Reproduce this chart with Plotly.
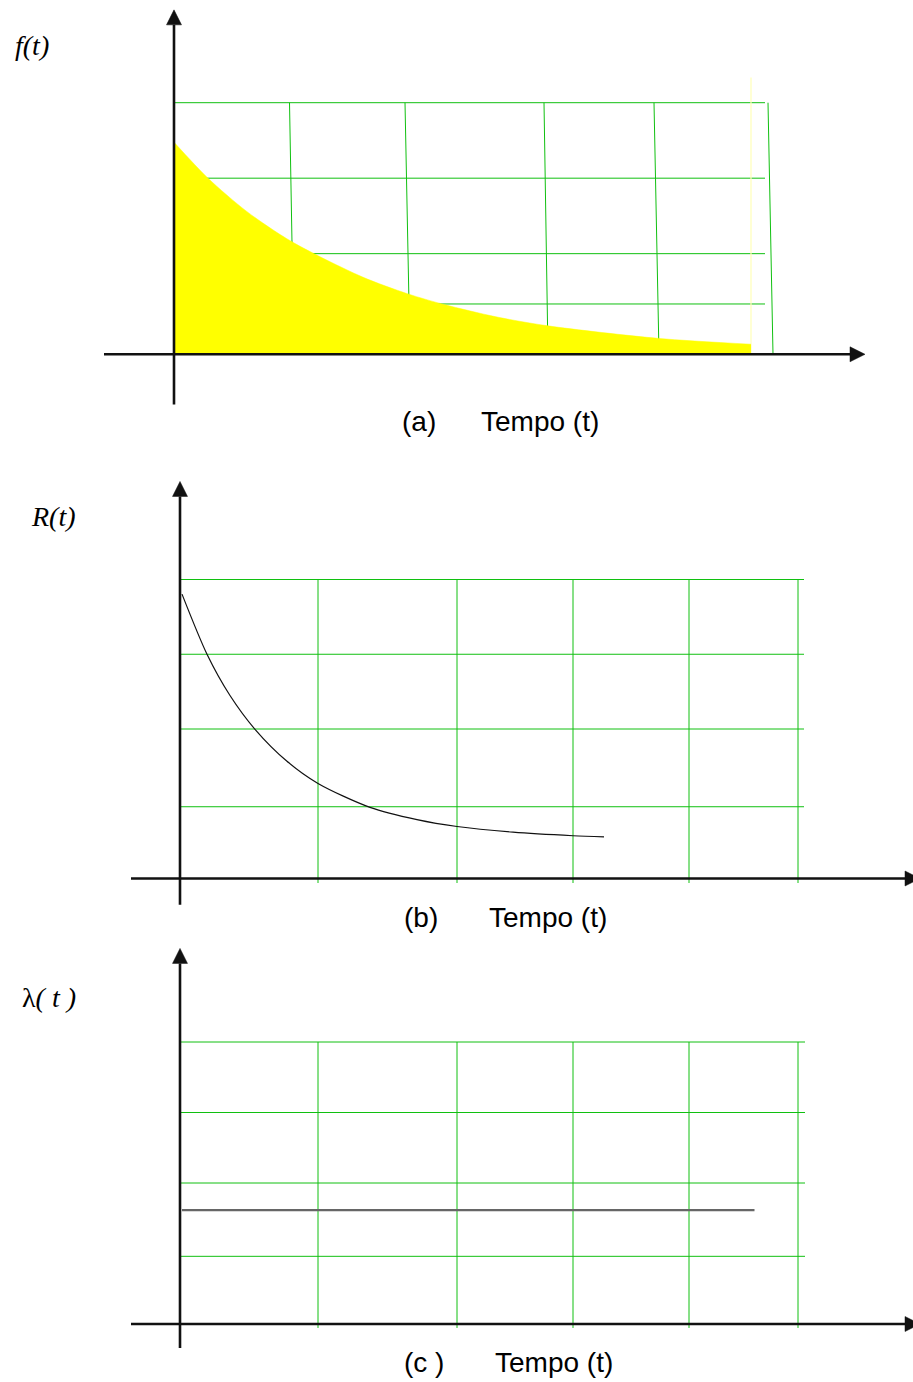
import plotly.graph_objects as go

W, H = 913, 1382

# ---------------- data ----------------
# (a) density f(t)
fa_t = [0.0, 0.34, 0.73, 1.18, 1.88, 2.34, 2.70, 3.22, 3.74, 4.85, 5.77]
fa_v = [0.843, 0.70, 0.567, 0.447, 0.308, 0.240, 0.198, 0.149, 0.113, 0.063, 0.04]
fa_hgrid = [0.2, 0.4, 0.7, 1.0]
fa_vgrid_top = [1.155, 2.31, 3.70, 4.80, 5.94]
fa_vgrid_bot = [1.20, 2.36, 3.74, 4.85, 5.99]

# (b) reliability R(t)
rb_t = [0.02, 0.27, 0.50, 0.75, 1.07, 1.38, 1.90, 2.37, 2.77, 3.33, 3.93, 4.24]
rb_v = [0.951, 0.75, 0.612, 0.499, 0.392, 0.318, 0.238, 0.197, 0.174, 0.155, 0.143, 0.139]

# (c) hazard rate lambda(t)
lc_t = [0.02, 5.745]
lc_v = [0.404, 0.404]

bc_hgrid = [1.0, 0.75, 0.5, 0.24]
bc_vgrid = [1.38, 2.77, 3.93, 5.09, 6.18]

# ---------------- panel geometry (origin px, px per unit, band px) ----------------
panels = {
    "a": dict(ox=174, oy=354.3, sx=100, sy=251.6, top=0, bot=460),
    "b": dict(ox=180, oy=878.5, sx=100, sy=299, top=460, bot=935),
    "c": dict(ox=180, oy=1324, sx=100, sy=282, top=935, bot=1382),
}
ax_ids = {"a": ("x", "y"), "b": ("x2", "y2"), "c": ("x3", "y3")}

GREEN = "rgb(16,192,16)"
AXIS = "#111111"

fig = go.Figure()


def add(trace, key):
    xa, ya = ax_ids[key]
    trace.update(xaxis=xa, yaxis=ya, showlegend=False, hoverinfo="skip")
    fig.add_trace(trace)


def seg_lists(segs):
    xs, ys = [], []
    for (x0, y0, x1, y1) in segs:
        xs += [x0, x1, None]
        ys += [y0, y1, None]
    return xs, ys


def arrow_axes(key, x_left, x_tip, y_bottom, y_tip):
    p = panels[key]
    head = 15.0
    half = 7.5
    # axis lines (stop at arrowhead base)
    xb = x_tip - head / p["sx"]
    yb = y_tip - head / p["sy"]
    xs, ys = seg_lists([(x_left, 0, xb, 0), (0, y_bottom, 0, yb)])
    add(go.Scatter(x=xs, y=ys, mode="lines", line=dict(color=AXIS, width=2.6)), key)
    # arrowheads
    add(go.Scatter(x=[xb, x_tip, xb, xb], y=[half / p["sy"], 0, -half / p["sy"], half / p["sy"]],
                   mode="lines", fill="toself", fillcolor=AXIS, line=dict(color=AXIS, width=0.5)), key)
    add(go.Scatter(x=[-half / p["sx"], 0, half / p["sx"], -half / p["sx"]], y=[yb, y_tip, yb, yb],
                   mode="lines", fill="toself", fillcolor=AXIS, line=dict(color=AXIS, width=0.5)), key)


# ---------------- panel (a) ----------------
segs = [(0, v, 5.91, v) for v in fa_hgrid]
segs += [(xt, 1.0, xb, 0.0) for xt, xb in zip(fa_vgrid_top, fa_vgrid_bot)]
xs, ys = seg_lists(segs)
add(go.Scatter(x=xs, y=ys, mode="lines", line=dict(color=GREEN, width=1)), "a")

# pale edge line at the end of the shaded area
add(go.Scatter(x=[fa_t[-1], fa_t[-1]], y=[0, 1.10], mode="lines",
               line=dict(color="#ffffb8", width=1.2)), "a")

add(go.Scatter(x=fa_t, y=fa_v, mode="lines",
               line=dict(color="#ffff00", width=0.5, shape="spline", smoothing=0.8),
               fill="tozeroy", fillcolor="#ffff00"), "a")

arrow_axes("a", -0.70, 6.91, -0.20, 1.369)

# ---------------- panel (b) ----------------
segs = [(0, v, 6.24, v) for v in bc_hgrid]
segs += [(t, 1.0, t, -0.015) for t in bc_vgrid]
xs, ys = seg_lists(segs)
add(go.Scatter(x=xs, y=ys, mode="lines", line=dict(color=GREEN, width=1)), "b")
add(go.Scatter(x=rb_t, y=rb_v, mode="lines",
               line=dict(color="#111111", width=1.2, shape="spline", smoothing=0.8)), "b")
arrow_axes("b", -0.49, 7.40, -0.088, 1.328)

# ---------------- panel (c) ----------------
segs = [(0, v, 6.25, v) for v in bc_hgrid]
segs += [(t, 1.0, t, -0.014) for t in bc_vgrid]
xs, ys = seg_lists(segs)
add(go.Scatter(x=xs, y=ys, mode="lines", line=dict(color=GREEN, width=1)), "c")
add(go.Scatter(x=lc_t, y=lc_v, mode="lines", line=dict(color="#666666", width=2.2)), "c")
arrow_axes("c", -0.49, 7.40, -0.085, 1.332)

# ---------------- axes layout ----------------
layout_axes = {}
for key, p in panels.items():
    xa, ya = ax_ids[key]
    xname = "xaxis" if xa == "x" else "xaxis" + xa[1:]
    yname = "yaxis" if ya == "y" else "yaxis" + ya[1:]
    layout_axes[xname] = dict(domain=[0, 1], range=[-p["ox"] / p["sx"], (W - p["ox"]) / p["sx"]],
                              visible=False, fixedrange=True, anchor=ya)
    layout_axes[yname] = dict(domain=[1 - p["bot"] / H, 1 - p["top"] / H],
                              range=[(p["oy"] - p["bot"]) / p["sy"], (p["oy"] - p["top"]) / p["sy"]],
                              visible=False, fixedrange=True, anchor=xa)

serif = dict(family="Liberation Serif, Times New Roman, serif", size=28, color="#000000")
sans = dict(family="Liberation Sans, Arial, sans-serif", size=28, color="#000000")


def ann(text, xpx, ypx, font):
    return dict(text=text, x=xpx / W, y=1 - ypx / H, xref="paper", yref="paper",
                xanchor="center", yanchor="middle", showarrow=False, font=font)


annotations = [
    ann("<i>f(t)</i>", 32, 45, serif),
    ann("<i>R(t)</i>", 53, 516, serif),
    ann("λ<i>( t )</i>", 49, 997, serif),
    ann("(a)", 419, 421, sans),
    ann("Tempo (t)", 540, 421, sans),
    ann("(b)", 421, 917, sans),
    ann("Tempo (t)", 548, 917, sans),
    ann("(c )", 424, 1362, sans),
    ann("Tempo (t)", 554, 1362, sans),
]

fig.update_layout(
    width=W, height=H,
    margin=dict(l=0, r=0, t=0, b=0),
    paper_bgcolor="white", plot_bgcolor="white",
    showlegend=False,
    annotations=annotations,
    **layout_axes,
)

fig.write_html("out.html", config={"displayModeBar": False})
